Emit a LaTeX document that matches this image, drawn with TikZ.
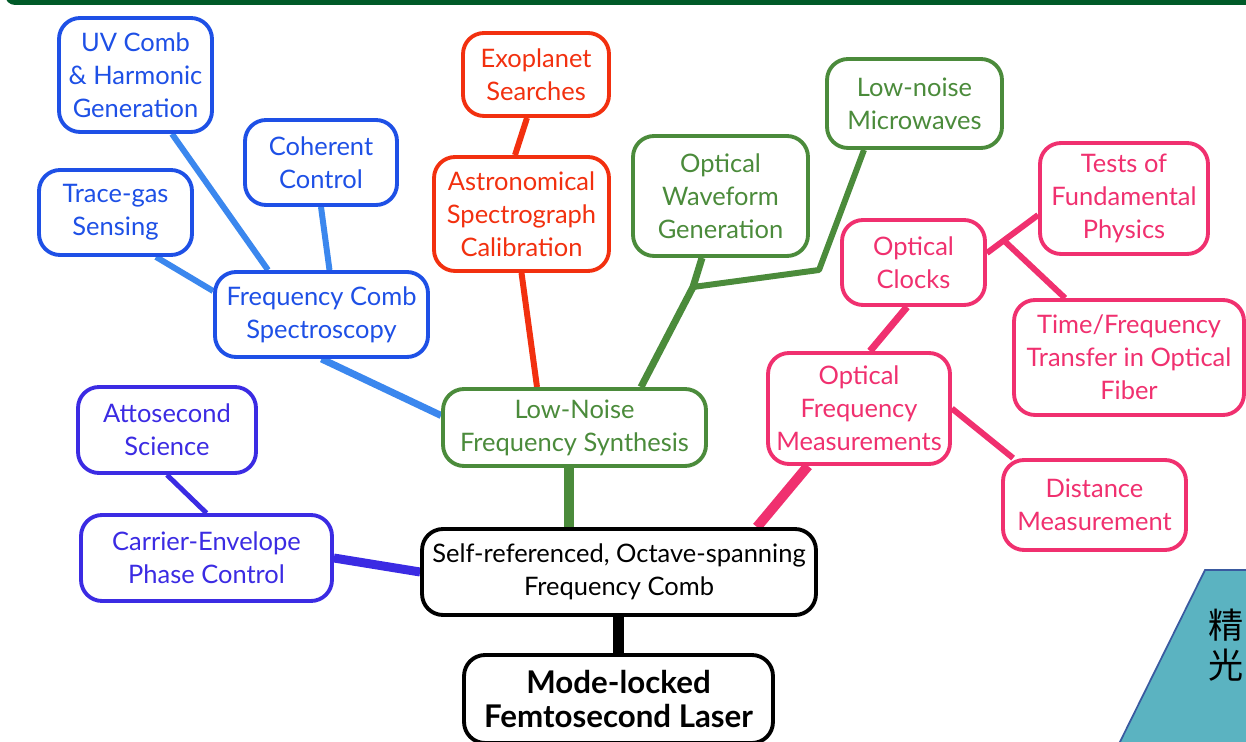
\documentclass[tikz,border=0pt]{standalone}
\usepackage{fontspec}
\setmainfont{Lato}
\newfontfamily\cjkfont{Noto Sans CJK SC}
\usetikzlibrary{backgrounds}
\definecolor{combblue}{HTML}{1E50E6}
\definecolor{linkblue}{HTML}{3B87EE}
\definecolor{cepblue}{HTML}{3B2BE3}
\definecolor{astrored}{HTML}{F2300F}
\definecolor{synthgreen}{HTML}{4B8B3B}
\definecolor{clockpink}{HTML}{F0306F}
\definecolor{bargreen}{HTML}{005A28}
\definecolor{panelteal}{HTML}{5BB3C1}
\definecolor{paneledge}{HTML}{3A5AA0}

\begin{document}
\begin{tikzpicture}[x=0.02cm, y=-0.02cm,
  bubble/.style={draw=#1, text=#1, fill=white, line width=2.2pt, rounded corners=0.42cm,
    align=center, inner sep=0pt, font=\fontsize{14.5}{18.7}\selectfont},
  link/.style={line width=#1}]
\useasboundingbox (0,0) rectangle (1246,742);
\clip (0,0) rectangle (1246,742);

% title bar and side panel
\fill[bargreen, rounded corners=0.2cm] (5,-20) rectangle (1260,5);
\draw[fill=panelteal, draw=paneledge, line width=1pt] (1111,760) -- (1205,570) -- (1260,570) -- (1260,760) -- cycle;
\node[anchor=west, inner sep=0pt, font=\cjkfont\fontsize{20}{22}\selectfont] (jing) at (1208,625) {精};
\node[anchor=west, inner sep=0pt, font=\cjkfont\fontsize{20}{22}\selectfont] (guang) at (1208,665) {光};

% root
\node[bubble=black, minimum width=6.18cm, minimum height=1.76cm, font=\bfseries\fontsize{17.8}{19.4}\selectfont] (laser) at (618.5,699) {Mode-locked\\Femtosecond Laser};
\node[bubble=black, minimum width=7.88cm, minimum height=1.72cm] (comb) at (619,572) {Self-referenced, Octave-spanning\\Frequency Comb};

% left branch
\node[bubble=cepblue, minimum width=5.02cm, minimum height=1.72cm] (cep) at (206.5,558) {Carrier-Envelope\\Phase Control};
\node[bubble=cepblue, minimum width=3.56cm, minimum height=1.72cm] (atto) at (167,430) {Attosecond\\Science};

% synthesis branch
\node[bubble=synthgreen, minimum width=5.26cm, minimum height=1.54cm] (lnfs) at (574.5,427.5) {Low-Noise\\Frequency Synthesis};
\node[bubble=combblue, minimum width=4.26cm, minimum height=1.70cm] (fcs) at (321.5,314.5) {Frequency Comb\\Spectroscopy};
\node[bubble=combblue, minimum width=3.06cm, minimum height=2.28cm] (uv) at (135.5,75) {UV Comb\\\& Harmonic\\Generation};
\node[bubble=combblue, minimum width=3.06cm, minimum height=1.70cm] (trace) at (115.5,212.5) {Trace-gas\\Sensing};
\node[bubble=combblue, minimum width=3.04cm, minimum height=1.70cm] (coh) at (321,162.5) {Coherent\\Control};
\node[bubble=astrored, minimum width=3.50cm, minimum height=2.28cm] (astro) at (521.5,214) {Astronomical\\Spectrograph\\Calibration};
\node[bubble=astrored, minimum width=2.92cm, minimum height=1.66cm] (exo) at (536,74.5) {Exoplanet\\Searches};
\node[bubble=synthgreen, minimum width=3.50cm, minimum height=2.40cm] (owg) at (720.5,196) {Optical\\Waveform\\Generation};
\node[bubble=synthgreen, minimum width=3.50cm, minimum height=1.78cm] (lnm) at (914.5,103.5) {Low-noise\\Microwaves};

% metrology branch
\node[bubble=clockpink, minimum width=3.64cm, minimum height=2.22cm] (ofm) at (859,408.5) {Optical\\Frequency\\Measurements};
\node[bubble=clockpink, minimum width=2.86cm, minimum height=1.70cm] (clk) at (913.5,262.5) {Optical\\Clocks};
\node[bubble=clockpink, minimum width=3.36cm, minimum height=2.22cm] (tfp) at (1124,198.5) {Tests of\\Fundamental\\Physics};
\node[bubble=clockpink, minimum width=4.60cm, minimum height=2.30cm] (tft) at (1129,357.5) {Time/Frequency\\Transfer in Optical\\Fiber};
\node[bubble=clockpink, minimum width=3.66cm, minimum height=1.80cm] (dist) at (1094.5,505) {Distance\\Measurement};

\coordinate (wavefork) at (693,287);
\coordinate (microbend) at (819,270);

\begin{pgfonlayer}{background}
\draw[link=6.8pt, black] (laser.north) -- (laser.north |- comb.south);
\draw[link=5.1pt, cepblue] (comb.west) -- (cep.east);
\draw[link=2.8pt, cepblue] (cep.north) -- (atto.south);
\draw[link=5.7pt, synthgreen] ([xshift=-1cm]comb.north) -- ([xshift=-1cm]comb.north |- lnfs.south);
\draw[link=5.7pt, clockpink] ([xshift=2.76cm]comb.north) -- ([xshift=-1.02cm]ofm.south);
\draw[link=4pt, linkblue] ([yshift=0.24cm]lnfs.west) -- (fcs.south);
\draw[link=3.4pt, linkblue] ([xshift=-1.07cm]fcs.north) -- ([xshift=0.73cm]uv.south);
\draw[link=3.4pt, linkblue] ([xshift=0.16cm]fcs.north) -- (coh.south);
\draw[link=3.4pt, linkblue] ([yshift=0.47cm]fcs.west) -- ([xshift=0.81cm]trace.south);
\draw[link=3.4pt, astrored] ([xshift=-0.75cm]lnfs.north) -- (astro.south);
\draw[link=3.4pt, astrored] ([xshift=-0.13cm]astro.north) -- ([xshift=-0.18cm]exo.south);
\draw[link=4pt, synthgreen] ([xshift=1.33cm]lnfs.north) -- (wavefork) -- ([xshift=-0.37cm]owg.south);
\draw[link=3.4pt, synthgreen, line join=round] (wavefork) -- (microbend) -- ([xshift=-1.01cm]lnm.south);
\draw[link=4pt, clockpink] ([xshift=0.22cm]ofm.north) -- ([xshift=-0.13cm]clk.south);
\draw[link=3.4pt, clockpink] ([yshift=0.19cm]clk.east) -- coordinate[pos=0.33] (clockfork) ([yshift=-0.33cm]tfp.west);
\draw[link=3.4pt, clockpink] (clockfork) -- ([xshift=-1.28cm]tft.north);
\draw[link=3.4pt, clockpink] (ofm.east) -- ([xshift=0.24cm]dist.north west);
\end{pgfonlayer}
\end{tikzpicture}
\end{document}
